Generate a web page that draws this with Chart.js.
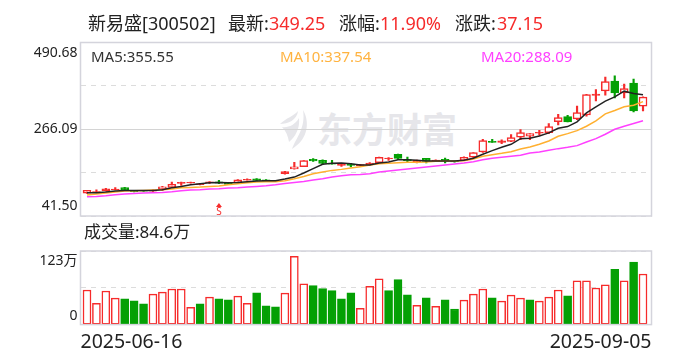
<!DOCTYPE html>
<html>
<head>
<meta charset="utf-8">
<script src="https://cdn.jsdelivr.net/npm/chart.js@4"></script>
<style>
    html, body { margin: 0; padding: 0; background: #fff; }
    body { position: relative; width: 688px; height: 360px; overflow: hidden; font-family: "Noto Sans", "Noto Sans CJK SC", sans-serif; }
    .txt { position: absolute; white-space: nowrap; line-height: 1; color: #222; }
    canvas { position: absolute; left: 0; }
    #priceChart { top: 0; }
    #volumeChart { top: 240px; }
    .watermark { position: absolute; left: 317px; top: 108px; font-family: "Noto Sans CJK SC", sans-serif; font-size: 35px; font-weight: 700; line-height: 40px; color: #e6e6ea; white-space: nowrap; }
    .logo { position: absolute; left: 276px; top: 110px; }
</style>
</head>
<body>
<svg class="logo" width="36" height="40" viewBox="0 0 36 40">
    <path d="M4 14 C10 8 18 6 22 1 C21 10 12 14 4 14 Z M27 0 C33 10 34 28 16 39 C20 28 30 18 27 0 Z M6 17 C12 18 19 15 23 8 C24 18 20 26 13 32 C12 26 10 21 6 17 Z" fill="#e6e6ea"/>
</svg>
<div class="watermark">东方财富</div>
<canvas id="priceChart" width="688" height="240"></canvas>
<canvas id="volumeChart" width="688" height="120"></canvas>
<div id="labels"></div>
<script>
    const stockTitle = '新易盛[300502]';
    const lastPrice = '349.25';
    const changePct = '11.90%';
    const changeAmt = '37.15';
    const ma5Label = 'MA5:355.55';
    const ma10Label = 'MA10:337.54';
    const ma20Label = 'MA20:288.09';
    const volumeLabel = '成交量:84.6万';

    const dateLabels = ['2025-06-16', '2025-09-05'];
    const priceTicks = [41.50, 153.80, 266.09, 378.38, 490.68];
    const priceTickLabels = ['41.50', '266.09', '490.68'];
    const volumeTicks = [0, 61.5, 123];
    const volumeTickLabels = ['0', '123万'];
    const signalDay = 14;
    const signalText = 'S';

    const opens = [
        100.7, 103.5, 107, 109.5, 115, 107.7, 107, 105.5, 111.2, 115.5,
        126, 127, 122.4, 127.6, 130, 126.7, 127.6, 134.5, 138, 135,
        132, 151, 163.1, 169.1, 188.2, 185.6, 177, 172.6, 176.1, 170.9,
        174.3, 179.5, 189.9, 201.2, 187.3, 181.3, 190.8, 183, 188.2, 183.9,
        185.6, 194, 207.2, 234.9, 232.3, 234.9, 245.3, 247.9, 255.7, 257.4,
        286, 299, 292.9, 303.3, 353.5, 365.6, 390.7, 360.4, 385.5, 325.8
    ];
    const closes = [
        107.7, 105, 112, 111, 108.5, 104.3, 105.5, 108, 117.2, 123.3,
        128.5, 128.5, 125, 130, 126.7, 123.3, 135.4, 136.2, 133.7, 132,
        131.5, 156.2, 169.1, 184.7, 183.9, 177.8, 176, 177, 172.6, 174.3,
        178.7, 193.4, 191.6, 190.8, 184.7, 185.6, 183, 186.5, 184.7, 181.3,
        193.4, 205.5, 236.6, 232.3, 235.8, 244.4, 257.4, 254.8, 258.3, 273,
        296.4, 285.1, 309.4, 356.1, 357, 389.8, 360.4, 371.7, 313.7, 349.25
    ];
    const highs = [
        108, 109.5, 113, 115, 115.5, 108, 108, 109, 118, 129.4,
        129, 129, 126, 130.5, 133.7, 127, 136, 138, 138.5, 135.5,
        132.5, 157, 180.4, 185, 190, 187, 185.6, 178, 178, 175,
        180, 194, 192.5, 202, 194.3, 186, 191, 187, 191.6, 184,
        195, 206, 240.1, 240.1, 238.4, 252.2, 265.2, 255, 263.5, 280.8,
        305, 302.4, 325.8, 356.5, 369.1, 401.1, 404.6, 382.9, 395.9, 350
    ];
    const lows = [
        100, 102, 106, 109, 108, 104, 105, 105, 108, 115,
        120.7, 126.5, 122, 125, 125, 123, 127, 134, 132, 131.5,
        131, 150, 163, 169, 183, 175.2, 175.5, 170, 168.3, 170.5,
        173, 178, 185.6, 188.2, 181.3, 178.7, 178.7, 182, 178.7, 181,
        185, 192, 206, 232, 228.9, 234, 239.3, 239.3, 250.5, 254.8,
        277.3, 285, 291.2, 299.8, 339.6, 354.4, 347.4, 347.4, 311.1, 313.7
    ];
    const ma5 = [
        101.6, 101.6, 103.4, 106, 107.7, 107.7, 107.7, 107.7, 109.4, 114.6,
        118.1, 122.4, 125, 127.6, 128.5, 127.6, 128.5, 130.2, 132, 132.8,
        133, 137.1, 142.3, 152.7, 164, 175.2, 177.8, 178.7, 177, 173.5,
        173.5, 178.7, 181.3, 187.3, 187.3, 185.6, 183.9, 183.9, 183.9, 183.9,
        185.6, 191, 201.2, 210.7, 219.3, 227.1, 241.8, 242.7, 248.8, 256.6,
        268.7, 273, 285.1, 308.5, 324.1, 338.8, 350, 364.7, 358.7, 355.55
    ];
    const ma10 = [
        95.6, 98.2, 100.8, 103.4, 106, 106.8, 107.7, 108.6, 109.4, 111.2,
        114.6, 115.5, 116.4, 118.1, 119, 122.4, 125, 127.6, 129.3, 130,
        130, 133, 138, 144, 151, 155.3, 159.6, 162.2, 165.7, 169.1,
        173.5, 177, 177.8, 179.5, 180.4, 180.4, 181.3, 183, 183.9, 183.9,
        184.7, 189, 196, 200.3, 203.8, 208.1, 215, 220.2, 227.1, 235.8,
        247.9, 254.8, 262.6, 273.9, 287.7, 305.9, 314.5, 324.1, 328.4, 337.54
    ];
    const ma20 = [
        91.3, 92.1, 93.9, 96.4, 98.2, 99.9, 100.8, 101.6, 102.5, 104.2,
        106.8, 108.6, 109.4, 111.2, 112, 113.8, 114.6, 116.4, 118.1, 119.8,
        122.4, 125.9, 128.5, 131, 134.5, 138, 142.3, 145.8, 148.4, 149.2,
        151, 155.3, 157.9, 160.5, 163.1, 165.7, 168.3, 170.9, 173.5, 176.1,
        178.7, 182.1, 187.3, 190.8, 193.4, 196, 198.6, 204.6, 207.2, 211.6,
        215.9, 219.3, 223.7, 233.2, 241.8, 253.1, 266.1, 273.9, 280.8, 288.09
    ];
    const volumes = [
        57.8, 35.7, 56.1, 44.2, 43.1, 39.7, 34.6, 51, 54.4, 59.5,
        59.5, 28.9, 34.6, 45.9, 43.1, 41.4, 47.6, 35.7, 53.3, 31.2,
        29.5, 52.7, 113.9, 68, 65.2, 60.1, 56.7, 43.1, 53.3, 27.2,
        64, 76.5, 56.7, 75.4, 49.9, 32.3, 44.8, 30.6, 41.4, 26.1,
        40.8, 51, 59.5, 44.8, 39.1, 49.3, 44.2, 41.4, 39.1, 45.9,
        57.8, 48.2, 73.1, 73.1, 61.2, 66.3, 92.4, 73.1, 104.3, 84.6
    ];
    const volumeSides = [
        'up', 'up', 'up', 'up', 'down', 'down', 'down', 'up', 'up', 'up',
        'up', 'up', 'down', 'up', 'down', 'down', 'up', 'up', 'down', 'down',
        'down', 'up', 'up', 'up', 'down', 'down', 'down', 'down', 'down', 'up',
        'up', 'up', 'down', 'down', 'down', 'up', 'down', 'up', 'down', 'down',
        'up', 'up', 'up', 'down', 'up', 'up', 'up', 'down', 'up', 'up',
        'up', 'down', 'up', 'up', 'up', 'up', 'down', 'up', 'down', 'up'
    ];

    const RED = '#f62b2b';
    const GREEN = '#04a004';
    const FRAME = '#d4d4dc';
    const DASH = '#dcdcdc';
    const X_MIN = -0.69;
    const X_MAX = 59.9;
    const days = opens.map((o, i) => i);

    // Thin up candles read as solid red, only the taller ones are hollow
    const bodyFill = (i) => {
        if (closes[i] < opens[i]) return GREEN;
        return closes[i] - opens[i] < 6 ? RED : '#fff';
    };

    // Header and legends
    const addText = (text, left, top, size, color) => {
        const el = document.createElement('div');
        el.className = 'txt';
        el.textContent = text;
        el.style.left = left + 'px';
        el.style.top = top + 'px';
        el.style.fontSize = size + 'px';
        if (color) el.style.color = color;
        document.getElementById('labels').appendChild(el);
    };

    addText(stockTitle, 88, 14, 18);
    addText('最新:', 228, 14, 18);
    addText(lastPrice, 269, 14, 18, RED);
    addText('涨幅:', 339, 14, 18);
    addText(changePct, 380, 14, 18, RED);
    addText('涨跌:', 455, 14, 18);
    addText(changeAmt, 497, 14, 18, RED);
    addText(ma5Label, 91, 49, 15, '#333');
    addText(ma10Label, 280, 49, 15, '#ffb340');
    addText(ma20Label, 481, 49, 15, '#ff40ff');
    addText(volumeLabel, 84, 223, 17);

    // Frame, axis texts and the S mark, all placed through the scales
    const priceExtras = {
        id: 'priceExtras',
        afterDatasetsDraw: (chart) => {
            const { ctx, chartArea, scales } = chart;
            ctx.save();
            ctx.strokeStyle = FRAME;
            ctx.lineWidth = 1.5;
            ctx.strokeRect(chartArea.left, chartArea.top, chartArea.width, chartArea.height);
            ctx.fillStyle = '#222';
            ctx.font = '14px "Noto Sans", sans-serif';
            ctx.textAlign = 'right';
            ctx.textBaseline = 'top';
            ctx.fillText(priceTickLabels[2], chartArea.left - 3, scales.y.getPixelForValue(priceTicks[4]) + 4);
            ctx.textBaseline = 'middle';
            ctx.fillText(priceTickLabels[1], chartArea.left - 3, scales.y.getPixelForValue(priceTicks[2]));
            ctx.textBaseline = 'bottom';
            ctx.fillText(priceTickLabels[0], chartArea.left - 3, scales.y.getPixelForValue(priceTicks[0]) - 3);

            const sx = scales.x.getPixelForValue(signalDay);
            ctx.fillStyle = RED;
            ctx.beginPath();
            ctx.moveTo(sx, chartArea.bottom - 13);
            ctx.lineTo(sx - 3, chartArea.bottom - 9);
            ctx.lineTo(sx + 3, chartArea.bottom - 9);
            ctx.fill();
            ctx.font = '10px "Noto Sans", sans-serif';
            ctx.textAlign = 'center';
            ctx.textBaseline = 'bottom';
            ctx.fillText(signalText, sx, chartArea.bottom + 1);
            ctx.restore();
        }
    };

    const volumeExtras = {
        id: 'volumeExtras',
        afterDatasetsDraw: (chart) => {
            const { ctx, chartArea, scales } = chart;
            ctx.save();
            ctx.strokeStyle = FRAME;
            ctx.lineWidth = 1.5;
            ctx.strokeRect(chartArea.left, chartArea.top, chartArea.width, chartArea.height);
            ctx.fillStyle = '#222';
            ctx.font = '14px "Noto Sans", "Noto Sans CJK SC", sans-serif';
            ctx.textAlign = 'right';
            ctx.textBaseline = 'top';
            ctx.fillText(volumeTickLabels[1], chartArea.left - 3, scales.y.getPixelForValue(volumeTicks[2]) + 3);
            ctx.textBaseline = 'bottom';
            ctx.fillText(volumeTickLabels[0], chartArea.left - 3, scales.y.getPixelForValue(volumeTicks[0]) - 2);
            ctx.restore();
        }
    };

    const lineDataset = (label, values, color) => ({
        type: 'line',
        label: label,
        data: values.map((v, i) => ({ x: i, y: v })),
        borderColor: color,
        borderWidth: 1.5,
        pointRadius: 0,
        tension: 0,
        order: 1
    });

    new Chart(document.getElementById('priceChart'), {
        type: 'bar',
        plugins: [priceExtras],
        data: {
            datasets: [
                lineDataset('MA5', ma5, '#222'),
                lineDataset('MA10', ma10, '#ffb030'),
                lineDataset('MA20', ma20, '#ff40ff'),
                {
                    label: 'body',
                    data: days.map((i) => ({ x: i, y: [opens[i], closes[i]] })),
                    backgroundColor: days.map(bodyFill),
                    borderColor: days.map((i) => closes[i] >= opens[i] ? RED : GREEN),
                    borderWidth: 1.5,
                    borderSkipped: false,
                    barThickness: 8,
                    grouped: false,
                    order: 2
                },
                {
                    label: 'wick',
                    data: days.map((i) => ({ x: i, y: [lows[i], highs[i]] })),
                    backgroundColor: days.map((i) => closes[i] >= opens[i] ? RED : GREEN),
                    barThickness: 1.5,
                    grouped: false,
                    order: 3
                }
            ]
        },
        options: {
            responsive: false,
            animation: false,
            layout: { padding: { left: 80.5, right: 36.5, top: 42.5, bottom: 24 } },
            plugins: { legend: { display: false }, tooltip: { enabled: false } },
            scales: {
                x: {
                    type: 'linear',
                    offset: false,
                    min: X_MIN,
                    max: X_MAX,
                    display: false,
                    grid: { display: false, offset: false }
                },
                y: {
                    min: priceTicks[0],
                    max: priceTicks[4],
                    afterBuildTicks: (axis) => { axis.ticks = priceTicks.map((v) => ({ value: v })); },
                    ticks: { display: false },
                    grid: {
                        drawTicks: false,
                        color: (ctx) => ctx.tick.value === priceTicks[2] ? '#d4d4d4' : DASH
                    },
                    border: {
                        display: false,
                        dash: (ctx) => ctx.tick.value === priceTicks[2] ? [] : [5, 5]
                    }
                }
            }
        }
    });

    new Chart(document.getElementById('volumeChart'), {
        type: 'bar',
        plugins: [volumeExtras],
        data: {
            datasets: [{
                label: 'volume',
                data: days.map((i) => ({ x: i, y: volumes[i] })),
                backgroundColor: volumeSides.map((s) => s === 'up' ? '#fff' : GREEN),
                borderColor: volumeSides.map((s) => s === 'up' ? RED : GREEN),
                borderWidth: 1.5,
                borderSkipped: false,
                barThickness: 8
            }]
        },
        options: {
            responsive: false,
            animation: false,
            layout: { padding: { left: 80.5, right: 36.5, top: 11, bottom: 0 } },
            plugins: { legend: { display: false }, tooltip: { enabled: false } },
            scales: {
                x: {
                    type: 'linear',
                    offset: false,
                    min: X_MIN,
                    max: X_MAX,
                    afterBuildTicks: (axis) => { axis.ticks = [{ value: X_MIN }, { value: X_MAX }]; },
                    grid: { display: false, drawTicks: false, offset: false },
                    border: { display: false },
                    ticks: {
                        align: 'inner',
                        autoSkip: false,
                        maxRotation: 0,
                        padding: 6,
                        color: '#222',
                        font: { size: 19.5, family: '"Noto Sans", sans-serif' },
                        callback: (value) => value === X_MIN ? dateLabels[0] : dateLabels[1]
                    }
                },
                y: {
                    min: volumeTicks[0],
                    max: volumeTicks[2],
                    afterBuildTicks: (axis) => { axis.ticks = volumeTicks.map((v) => ({ value: v })); },
                    ticks: { display: false },
                    grid: {
                        drawTicks: false,
                        color: DASH
                    },
                    border: { display: false, dash: [5, 5] }
                }
            }
        }
    });
</script>
</body>
</html>
